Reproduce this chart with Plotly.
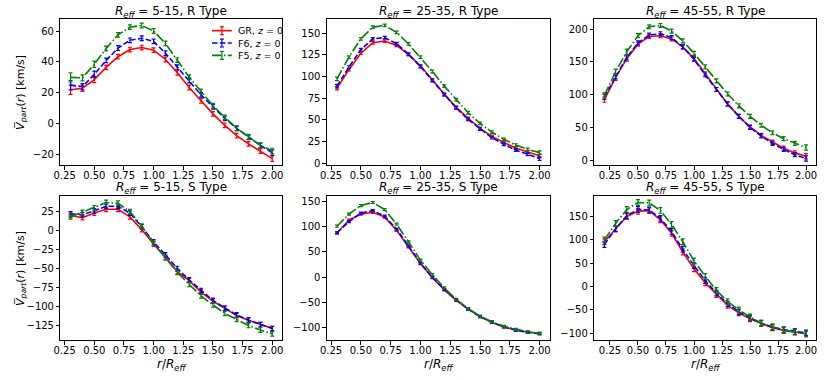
import plotly.graph_objects as go

# radial bins (r / R_eff)
r_a = [0.3, 0.4, 0.5, 0.6, 0.7, 0.8, 0.9, 1.0, 1.1, 1.2, 1.3, 1.4, 1.5, 1.6, 1.7, 1.8, 1.9, 2.0]
r_b = [0.2, 0.3, 0.4, 0.5, 0.6, 0.7, 0.8, 0.9, 1.0, 1.1, 1.2, 1.3, 1.4, 1.5, 1.6, 1.7, 1.8, 1.9, 2.0]

# R type, R_eff = 5-15
gr_r1 = [22, 23, 28.6, 36.5, 43.4, 48, 49.3, 47.6, 41.6, 33, 23.5, 14.8, 6.4, -1, -7.7, -13, -17.6, -22.5]
f6_r1 = [25, 24, 32, 41, 49, 54, 55.3, 53.3, 45.6, 36.6, 28, 18.7, 11, 3.5, -3, -8.8, -14, -18.7]
f5_r1 = [30, 29.7, 38.5, 48.7, 57.5, 62.5, 63.6, 60, 52, 41.2, 30.2, 21, 11.7, 4.2, -2.9, -8.4, -13.9, -17.6]
err_r1 = [3, 2, 2, 1.5, 1.5, 1.5, 1.5, 1.5, 1.5, 1.5, 1.5, 1.5, 1.5, 1.5, 1.5, 1.5, 1.5, 1.8]

# R type, R_eff = 25-35
gr_r2 = [86.7, 108, 127, 139, 141, 136, 125.4, 112.4, 96.3, 79.8, 64.8, 51.8, 40.3, 31, 24, 17.6, 13, 8.4]
f6_r2 = [89, 111, 131, 143.5, 145, 138, 126, 111.6, 95.5, 79, 63.7, 50.6, 39.5, 29.5, 21.9, 15.3, 10.4, 5.4]
f5_r2 = [97.4, 122.4, 143.5, 157, 159, 151, 137.7, 122.4, 105.9, 89, 73.3, 58.3, 46, 36, 27.6, 21, 16, 12.3]
err_r2 = [2, 1.5, 1.5, 1.5, 1.5, 1.5, 1.5, 1.5, 1.5, 1.5, 1.5, 1.5, 1.5, 1.5, 1.5, 1.5, 1.5, 2]

# R type, R_eff = 45-55
gr_r3 = [92.5, 126, 155, 177, 188.7, 190, 185, 173, 155, 132, 108, 86, 67, 51, 38, 27.8, 18.5, 11.3, 6.2]
f6_r3 = [97, 128, 157, 179, 191, 193, 187, 173, 154, 130, 108, 86, 67, 50, 37, 25.7, 16.5, 8.7, 2.6]
f5_r3 = [99, 135, 165.5, 190, 203.6, 205.6, 197, 182, 163, 142.4, 121, 101, 83, 67, 53.5, 42, 33, 25.7, 19.5]
err_r3 = [4, 4, 4, 3, 3, 3, 3, 3, 3, 3, 3, 3, 3, 3, 3, 3, 3, 3, 4]

# S type, R_eff = 5-15
gr_s1 = [20, 17, 23, 28, 28, 18, 1.3, -18, -35, -54, -66, -81, -93, -103, -112, -118, -124, -129]
f6_s1 = [22, 21, 26, 32, 32, 23, 5, -15, -32, -50, -65, -79, -92, -102, -111, -118, -124, -129]
f5_s1 = [18, 24, 30, 37, 36, 25, 6, -17, -36, -55, -71, -86, -98, -109, -117, -125, -131, -136]
err_s1 = [3, 3, 3, 3, 3, 3, 3, 3, 3, 3, 3, 3, 3, 3, 3, 3, 3, 3]

# S type, R_eff = 25-35
gr_s2 = [88, 113, 125, 128.6, 119, 93, 60, 27, -1, -25, -46, -63, -78, -89.5, -98.6, -104.4, -109, -111]
f6_s2 = [88, 110, 127, 132, 121, 95, 62, 28, 0, -24, -45, -63, -78, -89, -98, -105, -109, -112]
f5_s2 = [101, 125, 142, 148, 134, 105, 70, 34, 5, -21, -44, -62, -77, -88, -97, -103, -108, -111]
err_s2 = [2, 2, 2, 2, 2, 2, 2, 2, 2, 2, 2, 2, 2, 2, 2, 2, 2, 2]

# S type, R_eff = 45-55
gr_s3 = [96, 123, 150, 161, 162.6, 143, 114, 74, 38, 8, -17, -40, -56, -69, -79, -88, -94, -97.5, -101]
f6_s3 = [90, 124, 152, 165, 164, 146, 118, 80, 45, 13, -14, -37, -54, -67, -78, -87, -92, -96, -99]
f5_s3 = [100, 135, 165, 180, 179, 163, 133, 96, 55, 22, -8, -32, -50, -65, -78, -86, -93, -97, -101]
err_s3 = [6, 6, 6, 6, 6, 6, 6, 6, 6, 6, 6, 6, 6, 6, 6, 6, 6, 6, 6]

panels = [
    (r_a, gr_r1, f6_r1, f5_r1, err_r1, "5-15", "R"),
    (r_a, gr_r2, f6_r2, f5_r2, err_r2, "25-35", "R"),
    (r_b, gr_r3, f6_r3, f5_r3, err_r3, "45-55", "R"),
    (r_a, gr_s1, f6_s1, f5_s1, err_s1, "5-15", "S"),
    (r_a, gr_s2, f6_s2, f5_s2, err_s2, "25-35", "S"),
    (r_b, gr_s3, f6_s3, f5_s3, err_s3, "45-55", "S"),
]

# matplotlib-like dash patterns: solid, "--", "-."
series = [
    ("GR, <i>z</i> = 0", "#ff0000", "solid"),
    ("F6, <i>z</i> = 0", "#0000ff", "5.5px,2.4px"),
    ("F5, <i>z</i> = 0", "#008000", "9.6px,2.4px,1.5px,2.4px"),
]

W, H = 830, 380
xdom = [(54, 278), (323, 548), (593, 817)]
ydom = [(19, 167), (198, 344)]
title_y = [12.5, 189.5]
ydtick = [20, 25, 50, 25, 50, 50]

fig = go.Figure()
font = "DejaVu Sans"

for i, (r, gr, f6, f5, err, reff, kind) in enumerate(panels):
    n = i + 1
    xa = "x" if n == 1 else "x%d" % n
    ya = "y" if n == 1 else "y%d" % n
    for (name, col, dash), vals in zip(series, [gr, f6, f5]):
        fig.add_trace(go.Scatter(
            x=r, y=vals, mode="lines", name=name,
            line=dict(color=col, width=1.6, dash=dash),
            error_y=dict(type="data", array=err, color=col, thickness=1.2, width=2),
            xaxis=xa, yaxis=ya, showlegend=False,
        ))
    col_i, row_i = i % 3, i // 3
    x0, x1 = xdom[col_i]
    y0, y1 = ydom[row_i]
    lo = min(min(gr), min(f6), min(f5))
    hi = max(max(gr), max(f6), max(f5))
    pad = 0.05 * (hi - lo)
    xpad = 0.05 * (r[-1] - r[0])
    axis_common = dict(showline=True, mirror=True, linecolor="black", linewidth=1,
                       ticks="outside", ticklen=3.5, tickcolor="black",
                       showgrid=False, zeroline=False,
                       tickfont=dict(family=font, size=10, color="black"))
    fig.layout["xaxis" + ("" if n == 1 else str(n))] = dict(
        domain=[x0 / W, x1 / W], anchor=ya,
        range=[r[0] - xpad, r[-1] + xpad], dtick=0.25, tick0=0, tickformat=".2f",
        ticklabelstandoff=-3, **axis_common)
    fig.layout["yaxis" + ("" if n == 1 else str(n))] = dict(
        domain=[1 - y1 / H, 1 - y0 / H], anchor=xa,
        range=[lo - pad, hi + pad], dtick=ydtick[i], tick0=0,
        **axis_common)
    fig.add_annotation(
        text="<i>R<sub>eff</sub></i> = %s, %s Type" % (reff, kind),
        x=(x0 + x1) / 2 / W, y=1 - title_y[row_i] / H, xref="paper", yref="paper",
        xanchor="center", yanchor="middle", showarrow=False, borderpad=0,
        font=dict(family=font, size=12, color="black"))

# hand-drawn legend, matplotlib style (line sample with an error-bar tick)
for k, (name, col, dash) in enumerate(series):
    yy = 31 + 12.5 * k
    fig.add_shape(type="line", xref="paper", yref="paper",
                  x0=207 / W, x1=227 / W, y0=1 - yy / H, y1=1 - yy / H,
                  line=dict(color=col, width=1.6, dash=dash))
    fig.add_shape(type="line", xref="paper", yref="paper",
                  x0=217 / W, x1=217 / W, y0=1 - (yy - 4) / H, y1=1 - (yy + 4) / H,
                  line=dict(color=col, width=1.2))
    for cy in (yy - 4, yy + 4):
        fig.add_shape(type="line", xref="paper", yref="paper",
                      x0=215 / W, x1=219 / W, y0=1 - cy / H, y1=1 - cy / H,
                      line=dict(color=col, width=1.2))
    fig.add_annotation(text=name, x=232 / W, y=1 - yy / H, xref="paper", yref="paper",
                       xanchor="left", yanchor="middle", showarrow=False, borderpad=0,
                       font=dict(family=font, size=9.5, color="black"))

# axis labels
for yc in [(19 + 167) / 2, (198 + 344) / 2]:
    fig.add_annotation(
        text="<i>V\u0305</i><sub><i>part</i></sub>(<i>r</i>) [km/s]",
        x=14 / W, y=1 - yc / H, xref="paper", yref="paper", textangle=-90,
        xanchor="center", yanchor="middle", showarrow=False,
        font=dict(family=font, size=11, color="black"))
for x0, x1 in xdom:
    fig.add_annotation(
        text="<i>r</i>/<i>R<sub>eff</sub></i>",
        x=(x0 + x1) / 2 / W, y=1 - 369 / H, xref="paper", yref="paper",
        xanchor="center", yanchor="middle", showarrow=False,
        font=dict(family=font, size=12, color="black"))

fig.update_layout(
    width=W, height=H, margin=dict(l=0, r=0, t=0, b=0),
    paper_bgcolor="white", plot_bgcolor="white", showlegend=False,
)

fig.write_html("out.html", config={"displayModeBar": False},
               post_script="document.body.style.margin='0';")
